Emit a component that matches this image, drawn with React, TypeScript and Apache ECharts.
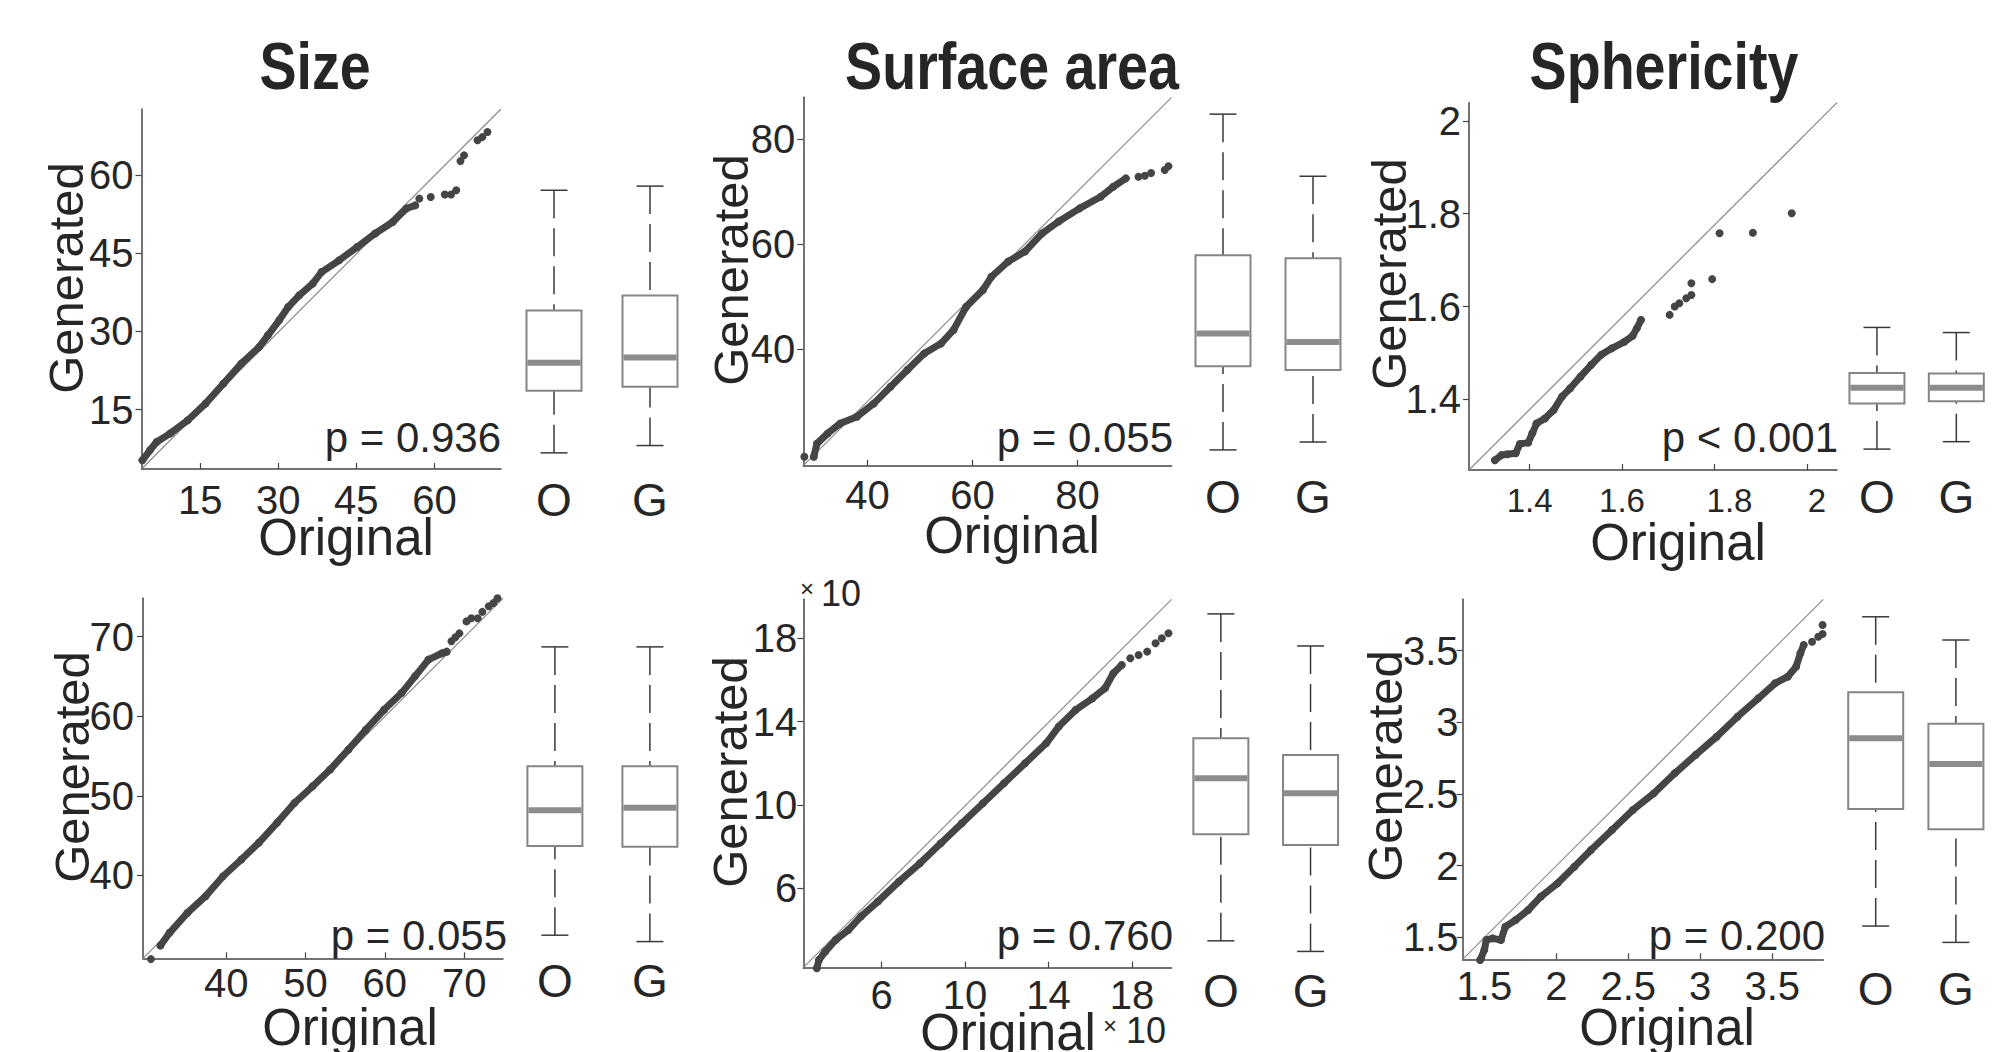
import React, { useEffect, useRef } from "react";
import * as echarts from "echarts";

// ---------------- DATA ----------------
const titles = ["Size", "Surface area", "Sphericity"];
const boxCategories = ["O", "G"];
const xAxisName = "Original";
const yAxisName = "Generated";

// QQ quantile pairs [original, generated]; dense run + sparse tail points
const sizeTopDense: [number, number][] = [
  [3.87, 5.27], [5.32, 7.19], [6.61, 8.78], [9.16, 10.39], [12.6, 12.95], [16.0, 16.15],
  [19.45, 19.99], [22.87, 23.83], [26.3, 27.0], [28.0, 29.26], [30.16, 32.14], [31.9, 34.7],
  [34.02, 36.94], [36.6, 39.18], [38.3, 41.4], [41.7, 43.66], [45.15, 46.2], [48.6, 48.8],
  [52.0, 51.0], [54.6, 53.6], [56.3, 54.2],
];
const sizeTopTail: [number, number][] = [
  [57.1, 55.5], [59.3, 55.8], [62.0, 56.3], [63.2, 56.3], [64.2, 57.1], [65.0, 62.7],
  [65.7, 63.8], [68.3, 66.7], [69.2, 67.3], [70.2, 68.3],
];

const surfTopDense: [number, number][] = [
  [29.8, 19.6], [30.4, 22.1], [32.4, 24.0], [34.8, 25.9], [38.0, 27.2], [41.2, 29.7],
  [44.4, 32.9], [47.6, 36.1], [50.8, 39.2], [54.0, 41.1], [56.4, 43.7], [58.8, 48.1],
  [62.0, 51.3], [63.6, 53.8], [66.8, 56.7], [70.0, 58.6], [73.2, 62.0], [76.4, 64.3],
  [80.4, 66.8], [84.4, 69.0], [86.8, 70.9], [89.2, 72.5],
];
const surfTopTail: [number, number][] = [
  [28.0, 19.6], [91.6, 72.8], [92.8, 73.0], [94.0, 73.5], [96.6, 74.1], [97.3, 74.8],
];

const spherTopDense: [number, number][] = [
  [1.325, 1.269], [1.339, 1.28], [1.352, 1.282], [1.37, 1.284], [1.379, 1.304], [1.397, 1.307],
  [1.406, 1.327], [1.415, 1.348], [1.433, 1.359], [1.452, 1.377], [1.47, 1.406], [1.488, 1.424],
  [1.51, 1.449], [1.533, 1.474], [1.555, 1.496], [1.578, 1.51], [1.605, 1.524], [1.623, 1.537],
  [1.632, 1.553], [1.641, 1.571],
];
const spherTopTail: [number, number][] = [
  [1.703, 1.582], [1.714, 1.6], [1.724, 1.607], [1.739, 1.618], [1.75, 1.625], [1.75, 1.65],
  [1.795, 1.659], [1.811, 1.758], [1.883, 1.759], [1.967, 1.801],
];

const sizeBotDense: [number, number][] = [
  [31.7, 31.2], [32.85, 32.8], [35.1, 35.3], [37.4, 37.4], [39.6, 39.9], [41.9, 42.0],
  [44.1, 44.1], [46.4, 46.6], [48.6, 49.1], [50.9, 51.2], [53.1, 53.3], [55.4, 55.8],
  [57.6, 58.3], [59.9, 60.8], [62.1, 62.9], [63.8, 65.0], [65.5, 67.1], [67.2, 67.9], [67.8, 68.1],
];
const sizeBotTail: [number, number][] = [
  [30.5, 29.5], [68.4, 69.4], [68.9, 69.9], [69.4, 70.4], [70.3, 71.9], [70.9, 72.3],
  [71.7, 72.3], [72.3, 73.1], [73.1, 73.8], [73.7, 74.2], [74.2, 74.8],
];

const surfBotDense: [number, number][] = [
  [2.9, 2.16], [3.0, 2.56], [3.3, 2.96], [3.8, 3.52], [4.41, 4.0], [5.01, 4.64], [5.82, 5.36],
  [6.83, 6.32], [7.84, 7.2], [8.84, 8.16], [9.85, 9.12], [10.86, 10.08], [11.87, 11.04],
  [12.88, 12.0], [13.89, 12.96], [14.49, 13.76], [15.3, 14.56], [16.11, 15.12], [16.71, 15.6],
  [17.11, 16.32], [17.51, 16.72],
];
const surfBotTail: [number, number][] = [
  [17.92, 17.04], [18.32, 17.2], [18.73, 17.36], [19.13, 17.76], [19.43, 18.0], [19.75, 18.24],
];

const spherBotDense: [number, number][] = [
  [1.471, 1.342], [1.5, 1.412], [1.514, 1.482], [1.558, 1.493], [1.616, 1.482], [1.646, 1.574],
  [1.718, 1.621], [1.805, 1.691], [1.892, 1.784], [2.009, 1.877], [2.125, 1.993], [2.241, 2.11],
  [2.387, 2.249], [2.532, 2.389], [2.678, 2.505], [2.823, 2.645], [2.968, 2.773], [3.114, 2.9],
  [3.259, 3.04], [3.404, 3.168], [3.52, 3.273], [3.608, 3.319], [3.666, 3.389], [3.696, 3.482],
  [3.719, 3.54],
];
const spherBotTail: [number, number][] = [
  [3.777, 3.563], [3.82, 3.598], [3.85, 3.617], [3.85, 3.68],
];

// box statistics: [lower whisker, Q1, median, Q3, upper whisker]
const sizeTopBoxO = [6.7, 18.6, 24.0, 34.0, 57.1];
const sizeTopBoxG = [8.1, 19.4, 25.0, 36.9, 57.9];
const surfTopBoxO = [20.9, 36.8, 43.0, 57.9, 84.7];
const surfTopBoxG = [22.4, 36.1, 41.4, 57.3, 72.9];
const spherTopBoxO = [1.293, 1.391, 1.425, 1.457, 1.555];
const spherTopBoxG = [1.309, 1.396, 1.425, 1.456, 1.544];
const sizeBotBoxO = [32.5, 43.7, 48.2, 53.7, 68.7];
const sizeBotBoxG = [31.7, 43.6, 48.5, 53.7, 68.7];
const surfBotBoxO = [3.48, 8.6, 11.28, 13.2, 19.17];
const surfBotBoxG = [2.97, 8.08, 10.56, 12.4, 17.63];
const spherBotBoxO = [1.579, 2.395, 2.889, 3.21, 3.737];
const spherBotBoxG = [1.465, 2.255, 2.709, 2.99, 3.575];

// axis ranges and tick labels
const sizeTopX = [3.7, 72.8], sizeTopY = [3.6, 72.7], sizeTopTicks = [15, 30, 45, 60];
const surfTopX = [27.8, 97.9], surfTopY = [17.9, 87.9];
const surfTopXTicks = [40, 60, 80], surfTopYTicks = [40, 60, 80];
const spherTopX = [1.269, 2.065], spherTopY = [1.248, 2.039];
const spherTopXTicks = [1.4, 1.6, 1.8, 2], spherTopYTicks = [1.4, 1.6, 1.8, 2];
const sizeBotX = [29.5, 74.9], sizeBotY = [29.6, 74.8], sizeBotTicks = [40, 50, 60, 70];
const surfBotX = [2.25, 19.9], surfBotY = [2.19, 19.87], surfBotTicks = [6, 10, 14, 18];
const spherBotX = [1.349, 3.855], spherBotY = [1.347, 3.859], spherBotTicks = [1.5, 2, 2.5, 3, 3.5];

const pTexts = ["p = 0.936", "p = 0.055", "p < 0.001", "p = 0.055", "p = 0.760", "p = 0.200"];
const scaleText = "10";

// ---------------- LAYOUT ----------------
const FONT = "'Liberation Sans', Arial, sans-serif";
const TITLE_FONT = "'Liberation Sans', Arial, sans-serif";
const DARK = "#262626";
const DOT = "#454545";
const TICK_FONT = 40;

const panels = [
  { x: sizeTopX, y: sizeTopY, xt: sizeTopTicks, yt: sizeTopTicks, dense: sizeTopDense, tail: sizeTopTail, box: [sizeTopBoxO, sizeTopBoxG],
    grid: [141.5, 109, 359.5, 360], boxGrid: [506, 192], xm: 11, ym: 8, cm: 8, xf: TICK_FONT, shift: false,
    p: [501, 437], gen: [66, 278], orig: [346, 537] },
  { x: surfTopX, y: surfTopY, xt: surfTopXTicks, yt: surfTopYTicks, dense: surfTopDense, tail: surfTopTail, box: [surfTopBoxO, surfTopBoxG],
    grid: [803.3, 97.3, 368.3, 368.4], boxGrid: [1178, 180], xm: 9, ym: 8, cm: 8, xf: TICK_FONT, shift: false,
    p: [1173, 437], gen: [731, 270], orig: [1012, 535] },
  { x: spherTopX, y: spherTopY, xt: spherTopXTicks, yt: spherTopYTicks, dense: spherTopDense, tail: spherTopTail, box: [spherTopBoxO, spherTopBoxG],
    grid: [1469, 102.7, 368, 367.3], boxGrid: [1837.25, 181], xm: 14, ym: 8, cm: 4, xf: 33, shift: true,
    p: [1838, 437], gen: [1389, 274], orig: [1678, 542] },
  { x: sizeBotX, y: sizeBotY, xt: sizeBotTicks, yt: sizeBotTicks, dense: sizeBotDense, tail: sizeBotTail, box: [sizeBotBoxO, sizeBotBoxG],
    grid: [143, 598.3, 360, 360], boxGrid: [507.4, 190], xm: 5, ym: 9, cm: 0, xf: TICK_FONT, shift: false,
    p: [507, 935], gen: [72, 767], orig: [350, 1027] },
  { x: surfBotX, y: surfBotY, xt: surfBotTicks, yt: surfBotTicks, dense: surfBotDense, tail: surfBotTail, box: [surfBotBoxO, surfBotBoxG],
    grid: [803.3, 599.3, 368.3, 368.4], boxGrid: [1176, 179.4], xm: 7, ym: 6, cm: 0, xf: TICK_FONT, shift: false,
    p: [1173, 935], gen: [730, 772], orig: [1008, 1032] },
  { x: spherBotX, y: spherBotY, xt: spherBotTicks, yt: spherBotTicks, dense: spherBotDense, tail: spherBotTail, box: [spherBotBoxO, spherBotBoxG],
    grid: [1462.6, 599.3, 360.7, 360], boxGrid: [1835.6, 179.2], xm: 7, ym: 4, cm: 7, xf: TICK_FONT, shift: false,
    p: [1825, 935], gen: [1385, 766], orig: [1667, 1027] },
];

const titlePos = [[315, 66], [1012, 66], [1664, 66]];

function boxRender(params: any, api: any) {
  const c = api.value(0);
  const lo = api.coord([c, api.value(1)]);
  const q1 = api.coord([c, api.value(2)]);
  const md = api.coord([c, api.value(3)]);
  const q3 = api.coord([c, api.value(4)]);
  const hi = api.coord([c, api.value(5)]);
  const x = lo[0];
  const hw = 27.5;
  const cw = 13.5;
  const dash = { stroke: "#3a3a3a", lineWidth: 1.5, lineDash: [28, 10] };
  const solid = { stroke: "#3a3a3a", lineWidth: 1.5 };
  return {
    type: "group",
    children: [
      { type: "line", shape: { x1: x, y1: hi[1], x2: x, y2: q3[1] }, style: dash },
      { type: "line", shape: { x1: x, y1: lo[1], x2: x, y2: q1[1] }, style: dash },
      { type: "line", shape: { x1: x - cw, y1: hi[1], x2: x + cw, y2: hi[1] }, style: solid },
      { type: "line", shape: { x1: x - cw, y1: lo[1], x2: x + cw, y2: lo[1] }, style: solid },
      { type: "rect", shape: { x: x - hw, y: q3[1], width: 2 * hw, height: q1[1] - q3[1] },
        style: { fill: "#ffffff", stroke: "#858585", lineWidth: 2 } },
      { type: "line", shape: { x1: x - hw + 1, y1: md[1], x2: x + hw - 1, y2: md[1] },
        style: { stroke: "#8c8c8c", lineWidth: 6 } },
    ],
  };
}

function buildOption() {
  const grid: any[] = [];
  const xAxis: any[] = [];
  const yAxis: any[] = [];
  const series: any[] = [];
  const graphic: any[] = [];

  panels.forEach((p, i) => {
    const qi = i * 2;
    const bi = i * 2 + 1;
    grid.push({ left: p.grid[0], top: p.grid[1], width: p.grid[2], height: p.grid[3] });
    grid.push({ left: p.boxGrid[0], top: p.grid[1], width: p.boxGrid[1], height: p.grid[3] });

    const xLabel: any = { customValues: p.xt, fontSize: p.xf, fontFamily: FONT, color: DARK, margin: p.xm };
    if (p.shift) {
      // the reference places the two upper labels slightly right of their ticks
      xLabel.formatter = (v: number) => (v === 1.8 ? "{a|" + v + "}" : v === 2 ? "{b|" + v + "}" : String(v));
      xLabel.rich = {
        a: { fontSize: p.xf, fontFamily: FONT, color: DARK, padding: [0, 0, 0, 30] },
        b: { fontSize: p.xf, fontFamily: FONT, color: DARK, padding: [0, 0, 0, 20] },
      };
    }
    xAxis.push({
      type: "value", gridIndex: qi, min: p.x[0], max: p.x[1],
      axisLine: { show: true, lineStyle: { color: "#444", width: 1.5 } },
      axisTick: { show: true, inside: true, length: 6, customValues: p.xt, lineStyle: { color: "#444", width: 1.2 } },
      axisLabel: xLabel,
      splitLine: { show: false },
    });
    yAxis.push({
      type: "value", gridIndex: qi, min: p.y[0], max: p.y[1],
      axisLine: { show: true, lineStyle: { color: "#444", width: 1.5 } },
      axisTick: { show: true, inside: false, length: 6, customValues: p.yt, lineStyle: { color: "#444", width: 1.2 } },
      axisLabel: { customValues: p.yt, fontSize: TICK_FONT, fontFamily: FONT, color: DARK, margin: p.ym },
      splitLine: { show: false },
    });
    xAxis.push({
      type: "category", gridIndex: bi, data: boxCategories, boundaryGap: true,
      axisLine: { show: false }, axisTick: { show: false },
      axisLabel: { fontSize: 46, fontFamily: FONT, color: DARK, margin: p.cm },
    });
    yAxis.push({ type: "value", gridIndex: bi, min: p.y[0], max: p.y[1], show: false });

    series.push({
      type: "line", xAxisIndex: qi, yAxisIndex: qi, silent: true, symbol: "none",
      data: [[p.x[0], p.y[0]], [p.x[1], p.y[1]]],
      lineStyle: { color: "#8a8a8a", width: 1.2 }, z: 1,
    });
    series.push({
      type: "line", xAxisIndex: qi, yAxisIndex: qi, data: p.dense, clip: false,
      symbol: "circle", symbolSize: 8, showSymbol: true,
      itemStyle: { color: DOT }, lineStyle: { color: DOT, width: 7, cap: "round", join: "round" }, z: 3,
    });
    series.push({
      type: "scatter", xAxisIndex: qi, yAxisIndex: qi, data: p.tail, clip: false,
      symbol: "circle", symbolSize: 8, itemStyle: { color: DOT, opacity: 1 }, z: 3,
    });
    series.push({
      type: "custom", xAxisIndex: bi, yAxisIndex: bi, renderItem: boxRender,
      encode: { x: 0, y: [1, 2, 3, 4, 5] },
      data: p.box.map((b, k) => [k, ...b]),
      z: 2,
    });

    graphic.push({
      type: "text", x: p.p[0], y: p.p[1],
      style: { text: pTexts[i], fontSize: 42, fontFamily: FONT, fill: DARK, align: "right", verticalAlign: "middle" },
    });
    graphic.push({
      type: "text", x: p.gen[0], y: p.gen[1], rotation: Math.PI / 2,
      style: { text: yAxisName, fontSize: 49, fontFamily: FONT, fill: DARK, align: "center", verticalAlign: "middle" },
    });
    graphic.push({
      type: "text", x: p.orig[0], y: p.orig[1],
      style: { text: xAxisName, fontSize: 51, fontFamily: FONT, fill: DARK, align: "center", verticalAlign: "middle" },
    });
  });

  titles.forEach((t, i) => {
    graphic.push({
      type: "text", x: titlePos[i][0], y: titlePos[i][1], scaleX: 0.83,
      style: { text: t, fontSize: 67, fontWeight: "bold", fontFamily: TITLE_FONT, fill: DARK, align: "center", verticalAlign: "middle" },
    });
  });

  // exponent labels of the bottom-middle panel
  graphic.push({ type: "text", x: 807, y: 588, style: { text: "×", fontSize: 24, fontFamily: FONT, fill: DARK, align: "center", verticalAlign: "middle" } });
  graphic.push({ type: "text", x: 821, y: 593, style: { text: scaleText, fontSize: 36, fontFamily: FONT, fill: DARK, align: "left", verticalAlign: "middle" } });
  graphic.push({ type: "text", x: 1110, y: 1025, style: { text: "×", fontSize: 24, fontFamily: FONT, fill: DARK, align: "center", verticalAlign: "middle" } });
  graphic.push({ type: "text", x: 1126, y: 1030, style: { text: scaleText, fontSize: 36, fontFamily: FONT, fill: DARK, align: "left", verticalAlign: "middle" } });

  return { animation: false, backgroundColor: "#ffffff", grid, xAxis, yAxis, series, graphic };
}

export default function App() {
  const ref = useRef<HTMLDivElement>(null);
  useEffect(() => {
    document.body.style.margin = "0";
    if (!ref.current) return;
    const chart = echarts.init(ref.current, undefined, { renderer: "svg" });
    chart.setOption(buildOption() as any);
    return () => chart.dispose();
  }, []);
  return <div ref={ref} style={{ width: 1996, height: 1052, overflow: "hidden" }} />;
}
